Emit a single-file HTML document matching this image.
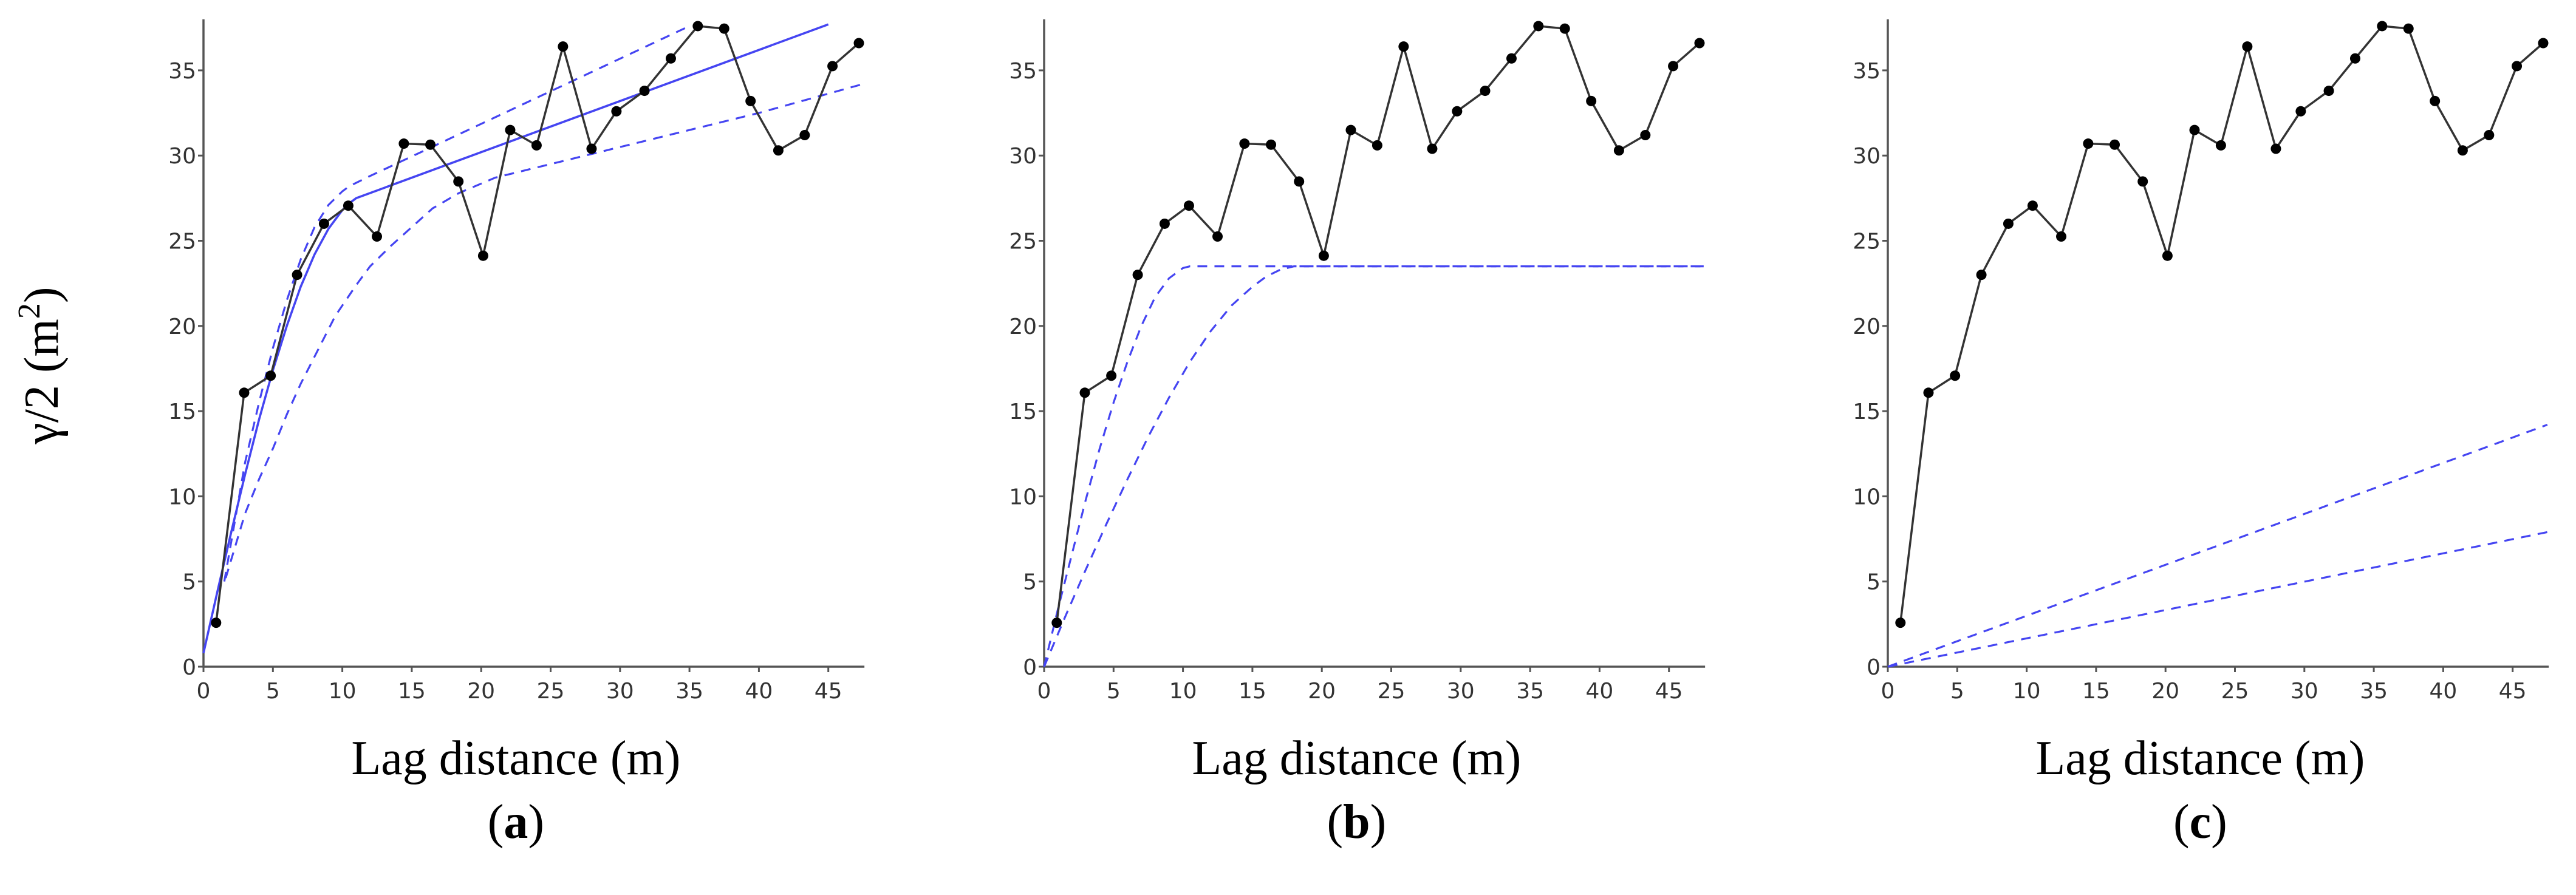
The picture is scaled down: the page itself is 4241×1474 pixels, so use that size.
<!DOCTYPE html>
<html><head><meta charset="utf-8">
<style>
html,body{margin:0;padding:0;background:#fff;}
svg{display:block;}
.tick{font-family:"DejaVu Sans","Liberation Sans",sans-serif;font-size:36px;fill:#333;}
.title{font-family:"Liberation Serif",serif;font-size:80px;fill:#000;}
</style></head>
<body>
<svg id="chart" width="4241" height="1474" viewBox="0 0 4241 1474" xmlns="http://www.w3.org/2000/svg">
<text class="title" transform="translate(95,602) rotate(-90)" text-anchor="middle">γ/2 (m<tspan dy="-30" font-size="52">2</tspan><tspan dy="30">)</tspan></text>
</svg>
<script>
const lags = [0.91,2.93,4.84,6.74,8.68,10.43,12.49,14.43,16.34,18.36,20.14,22.09,23.99,25.89,27.95,29.74,31.76,33.66,35.6,37.5,39.4,41.4,43.3,45.3,47.2];
const semivar = [2.58,16.08,17.08,23.0,26.0,27.06,25.25,30.7,30.64,28.48,24.12,31.5,30.6,36.4,30.4,32.6,33.8,35.7,37.6,37.45,33.2,30.3,31.2,35.25,36.6];
const xTicks = [0,5,10,15,20,25,30,35,40,45];
const yTicks = [0,5,10,15,20,25,30,35];
const panelLabels = ["a","b","c"];
// model curves [lag, value]
const aFitX = [0,1,2,3,4,5,6,7,8,9,10,10.5,11,12,45];
const aFitY = [0.8,4.4,7.9,11.3,14.5,17.4,20.0,22.3,24.2,25.7,26.8,27.2,27.5,27.8,37.7];
const aUpX = [1.5,3,4,5,6,7,8,9,10,10.5,11,12,35];
const aUpY = [5,12,15.5,18.7,21.5,23.9,25.8,27.1,27.9,28.2,28.4,28.8,37.6];
const aLoX = [1.6,3,4,5,6,7,8,9.5,11,12,13.5,15,16.5,18.4,21,25,30,40,47.5];
const aLoY = [5.2,9.0,11.0,12.8,14.8,16.6,18.2,20.6,22.4,23.5,24.7,25.8,26.9,27.8,28.7,29.5,30.5,32.5,34.2];
const bUpX = [0,1,2,3,4,5,6,7,8,9,10,10.5,47.5];
const bUpY = [0,3.4,6.6,9.8,12.8,15.5,17.9,20.0,21.7,22.8,23.4,23.5,23.5];
const bLoX = [0,1.5,3,4.5,6,7.5,9,10.5,12,13.5,15,16,17,18,18.5,47.5];
const bLoY = [0,2.9,5.7,8.4,11.0,13.5,15.8,17.9,19.7,21.2,22.3,22.9,23.3,23.5,23.5,23.5];
const cUpX = [0,47.5];
const cUpY = [0,14.2];
const cLoX = [0,47.5];
const cLoY = [0,7.9];

const NS="http://www.w3.org/2000/svg";
const svg=document.getElementById('chart');
const origins=[335,1719,3108];
const XS=22.86, Y0=1098, YS=28.06, XMAX=47.6, YTOP=38;
function mk(tag,attrs,parent){const e=document.createElementNS(NS,tag);for(const k in attrs)e.setAttribute(k,attrs[k]);(parent||svg).appendChild(e);return e;}

function drawPanel(i, curves){
  const ox=origins[i];
  const sx=v=>ox+v*XS, sy=v=>Y0-v*YS;
  const g=mk('g',{});
  
  
  const ax=mk('path',{d:`M${sx(0)},${sy(YTOP)} L${sx(0)},${Y0} L${sx(XMAX)},${Y0}`,stroke:'#555',fill:'none','stroke-width':3.5},g);
  
  
  xTicks.forEach(t=>{
    mk('line',{x1:sx(t),x2:sx(t),y1:Y0,y2:Y0+9,stroke:'#555','stroke-width':3},g);
    const tx=mk('text',{x:sx(t),y:Y0+52,'text-anchor':'middle',class:'tick'},g);
    tx.textContent=t;
    
    
  });
  yTicks.forEach(t=>{
    mk('line',{x1:sx(0)-9,x2:sx(0),y1:sy(t),y2:sy(t),stroke:'#555','stroke-width':3},g);
    const tx=mk('text',{x:sx(0)-12,y:sy(t)+13,'text-anchor':'end',class:'tick'},g);
    tx.textContent=t;
    
    
  });
  curves.forEach(c=>{
    const d=c.x.map((v,k)=>(k?'L':'M')+sx(v)+','+sy(c.y[k])).join(' ');
    const p=mk('path',{d:d,stroke:'#4545f2',fill:'none','stroke-width':c.dash?3.2:3.6,'stroke-dasharray':c.dash?'16 12':'none','stroke-linejoin':'round'},g);
    
    
  });
  const d=lags.map((v,k)=>(k?'L':'M')+sx(v)+','+sy(semivar[k])).join(' ');
  const ln=mk('path',{d:d,stroke:'#333',fill:'none','stroke-width':3.5},g);
  
  
  lags.forEach((v,k)=>{
    const c=mk('circle',{cx:sx(v),cy:sy(semivar[k]),r:8.5,fill:'#000'},g);
    
    
  });
  const cx=sx(22.5);
  const tt=mk('text',{x:cx,y:1275,'text-anchor':'middle',class:'title'},g);
  tt.textContent='Lag distance (m)';
  
  
  const pl=mk('text',{x:cx,y:1380,'text-anchor':'middle',class:'title'},g);
  pl.innerHTML='(<tspan font-weight="bold">'+panelLabels[i]+'</tspan>)';
  
  
}
drawPanel(0,[{x:aLoX,y:aLoY,dash:true,name:'lower-bound-curve'},{x:aUpX,y:aUpY,dash:true,name:'upper-bound-curve'},{x:aFitX,y:aFitY,dash:false,name:'fitted-model-curve'}]);
drawPanel(1,[{x:bLoX,y:bLoY,dash:true,name:'lower-bound-curve'},{x:bUpX,y:bUpY,dash:true,name:'upper-bound-curve'}]);
drawPanel(2,[{x:cLoX,y:cLoY,dash:true,name:'lower-bound-curve'},{x:cUpX,y:cUpY,dash:true,name:'upper-bound-curve'}]);
</script>
</body></html>
